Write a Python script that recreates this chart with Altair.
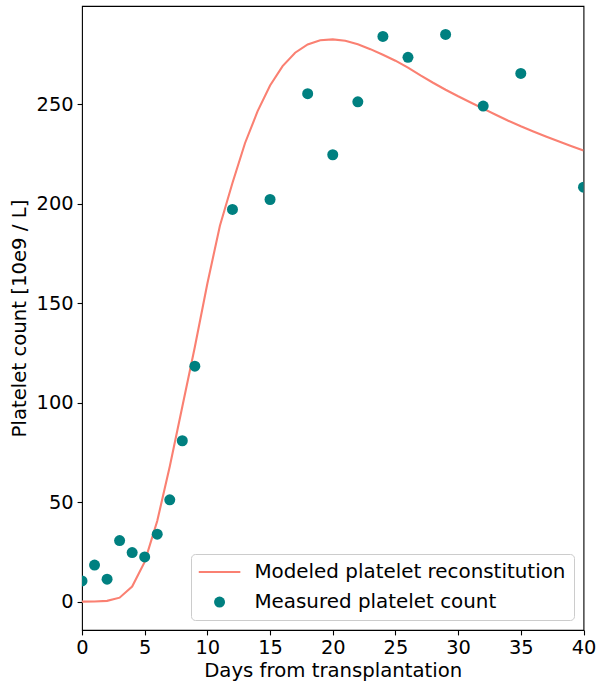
import altair as alt
import pandas as pd

# Modeled reconstitution curve, evaluated once per day
model_days = list(range(0, 41))
model_counts = [
    0.0, 0.05, 0.4, 2.0, 7.6, 20.0, 40.5, 68.0, 98.0, 128.0,
    160.0, 189.0, 210.5, 230.5, 246.5, 259.5, 269.3, 276.0, 280.2, 282.3,
    282.7, 282.0, 280.3, 277.8, 275.0, 272.0, 268.5, 264.6, 260.9, 257.4,
    254.1, 251.0, 247.9, 244.8, 241.8, 239.0, 236.4, 233.9, 231.5, 229.1,
    226.8,
]

# Measured platelet counts
measured_days = [0, 1, 2, 3, 4, 5, 6, 7, 8, 9, 12, 15, 18, 20, 22, 24, 26, 29, 32, 35, 40]
measured_counts = [
    10.4, 18.4, 11.3, 30.7, 24.7, 22.5, 33.9, 51.2, 80.9, 118.4,
    197.2, 202.2, 255.4, 224.7, 251.3, 284.2, 273.7, 285.2, 249.2, 265.6,
    208.4,
]

series_names = ["Modeled platelet reconstitution", "Measured platelet count"]
series_colors = ["#fa8072", "#008080"]

x_ticks = [0, 5, 10, 15, 20, 25, 30, 35, 40]
y_ticks = [0, 50, 100, 150, 200, 250]

FONT = "DejaVu Sans"
FS = 19.7
TICK_FS = 19.4

model_df = pd.DataFrame({"day": model_days, "count": model_counts})
measured_df = pd.DataFrame(
    {"day": measured_days, "count": measured_counts, "series": series_names[1]}
)

x_scale = alt.Scale(domain=[0, 40], nice=False, zero=False)
y_scale = alt.Scale(domain=[-14.26, 299.5], nice=False, zero=False)

x_axis = alt.Axis(title="Days from transplantation", values=x_ticks, format="d")
y_axis = alt.Axis(title="Platelet count [10e9 / L]", values=y_ticks, format="d")

# Legend glyphs: a short horizontal bar for the model line, a dot for measurements
LINE_GLYPH = "M-3.78,-0.19L3.78,-0.19L3.78,0.19L-3.78,0.19Z"
legend = alt.Legend(
    title=None,
    orient="bottom-right",
    offset=10,
    symbolSize=121,
    symbolStrokeWidth=0,
    symbolOffset=10.6,
    labelOffset=24.9,
    rowPadding=9.1,
    padding=8,
    strokeColor="#cccccc",
    fillColor="rgba(255,255,255,0.8)",
    cornerRadius=4,
    labelFont=FONT,
    labelFontSize=19.9,
    labelColor="black",
    labelLimit=0,
)

line = (
    alt.Chart(model_df)
    .mark_line(color=series_colors[0], strokeWidth=2.1, clip=True)
    .encode(
        x=alt.X("day:Q", scale=x_scale, axis=x_axis),
        y=alt.Y("count:Q", scale=y_scale, axis=y_axis),
    )
)

points = (
    alt.Chart(measured_df)
    .mark_point(filled=True, opacity=1, size=121, clip=True)
    .encode(
        x=alt.X("day:Q", scale=x_scale),
        y=alt.Y("count:Q", scale=y_scale),
        color=alt.Color(
            "series:N",
            scale=alt.Scale(domain=series_names, range=series_colors),
            legend=legend,
        ),
        shape=alt.Shape(
            "series:N",
            scale=alt.Scale(domain=series_names, range=[LINE_GLYPH, "circle"]),
            legend=legend,
        ),
    )
)

chart = (
    alt.layer(line, points)
    .properties(
        width=501.5,
        height=624,
        autosize=alt.AutoSizeParams(type="none"),
        padding={"left": 82, "top": 6, "right": 12.5, "bottom": 54},
    )
    .configure_view(stroke="black", strokeWidth=1.1)
    .configure_axis(
        domain=False,
        grid=False,
        ticks=True,
        tickColor="black",
        tickWidth=1.1,
        tickSize=4.9,
        labelFont=FONT,
        labelFontSize=TICK_FS,
        labelColor="black",
        labelPadding=4,
        labelFlush=False,
        titleFont=FONT,
        titleFontSize=FS,
        titleFontWeight="normal",
        titleColor="black",
    )
    .configure_axisX(titlePadding=3)
    .configure_axisY(titlePadding=7)
)

chart.save("out.html", embed_options={"renderer": "svg", "actions": False})
